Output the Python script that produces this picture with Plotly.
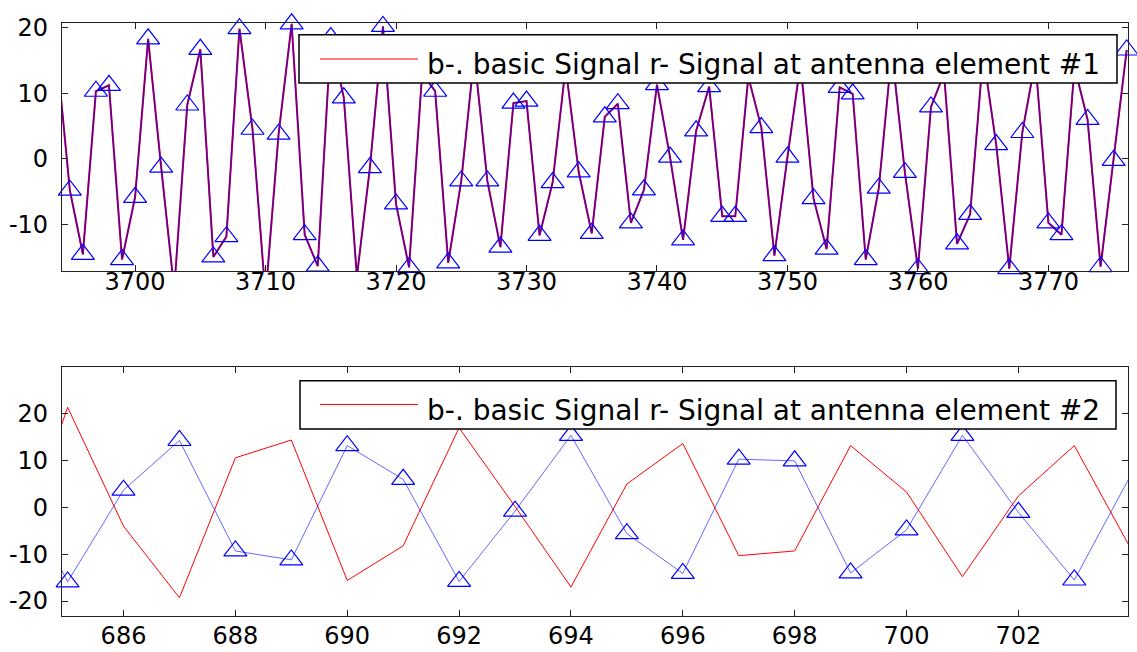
import plotly.graph_objects as go

# ---------------- data ----------------
# top panel: samples 3694..3776 (basic signal and signal at element #1 coincide)
top_x = list(range(3694, 3777))
top_basic = [16, -4.8, -14.6, 10.3, 11.2, -15.4, -5.9, 18.3, -1.3, -20,
             8.2, 16.7, -15.0, -11.9, 19.85, 4.5, -21, 3.75, 20.6, -11.6,
             -16.4, 18.5, 9.3, -18, -1.35, 20.2, -6.9, -16.6, 13, 10.3,
             -15.9, -3.4, 15.9, -3.4, -13.5, 8.5, 8.8, -11.7, -3.65, 14,
             -2.0, -11.4, 6.4, 8.4, -9.8, -4.75, 11.3, 0.25, -12.4, 4.25,
             11.0, -8.8, -8.8, 12.5, 4.75, -14.8, 0.25, 14.5, -6.1, -13.8,
             10.9, 9.9, -15.4, -4.5, 16.4, -2.1, -16.8, 7.9, 13, -13.0,
             -8.5, 16, 2.15, -16.8, 4.0, 15, -9.8, -11.6, 14, 6.0,
             -16.5, -0.25, 16.6]
top_elem1 = list(top_basic)

# bottom panel: samples 684..704
bot_x = list(range(684, 705))
bot_elem2 = [-13.6, 21.4, -4.0, -19.3, 10.6, 14.4, -15.6, -8.2, 17.0, 0.2,
             -17.0, 5.0, 13.65, -10.3, -9.3, 13.2, 3.3, -14.8, 2.45, 13.2, -8.6]
bot_basic = [8.1, -15.9, 3.7, 14.3, -9.3, -11.2, 13.2, 6.0, -15.8, -0.8,
             15.4, -5.6, -14.1, 10.3, 9.95, -14.0, -4.8, 15.4, -1.05, -15.5, 6.7]

top_xticks = [3700, 3710, 3720, 3730, 3740, 3750, 3760, 3770]
top_xtext = ["3700", "3710", "3720", "3730", "3740", "3750", "3760", "3770"]
top_yticks = [-10, 0, 10, 20]
top_ytext = ["-10", "0", "10", "20"]
bot_xticks = [686, 688, 690, 692, 694, 696, 698, 700, 702]
bot_xtext = ["686", "688", "690", "692", "694", "696", "698", "700", "702"]
bot_yticks = [-20, -10, 0, 10, 20]
bot_ytext = ["-20", "-10", "0", "10", "20"]

legend1 = "b-. basic Signal r- Signal at antenna element #1"
legend2 = "b-. basic Signal r- Signal at antenna element #2"

# ---------------- figure ----------------
W, H = 1137, 652
FONT = "DejaVu Sans"


def px(x):
    return x / W


def py(y):
    return 1 - y / H


fig = go.Figure()

# top panel
fig.add_trace(go.Scatter(x=top_x, y=top_elem1, mode="lines",
                         line=dict(color="red", width=2),
                         xaxis="x", yaxis="y", showlegend=False))
fig.add_trace(go.Scatter(x=top_x, y=top_basic, mode="lines+markers",
                         line=dict(color="rgba(0,0,255,0.65)", width=1.5),
                         marker=dict(symbol="triangle-up-open", size=20, color="blue",
                                     line=dict(width=1.2, color="blue")),
                         cliponaxis=False,
                         xaxis="x", yaxis="y", showlegend=False))

# bottom panel
fig.add_trace(go.Scatter(x=bot_x, y=bot_elem2, mode="lines",
                         line=dict(color="red", width=1),
                         xaxis="x2", yaxis="y2", showlegend=False))
fig.add_trace(go.Scatter(x=bot_x, y=bot_basic, mode="lines+markers",
                         line=dict(color="rgba(0,0,255,0.6)", width=1),
                         marker=dict(symbol="triangle-up-open", size=20, color="blue",
                                     line=dict(width=1.2, color="blue")),
                         cliponaxis=False,
                         xaxis="x2", yaxis="y2", showlegend=False))

axis_common = dict(showline=True, linecolor="#222", linewidth=1.2, mirror="ticks",
                   ticks="inside", ticklen=6, tickcolor="#222", tickwidth=1,
                   showgrid=False, zeroline=False,
                   tickfont=dict(family=FONT, size=24, color="black"))

fig.update_layout(
    width=W, height=H,
    margin=dict(l=0, r=0, t=0, b=0),
    paper_bgcolor="white", plot_bgcolor="white",
    xaxis=dict(domain=[62 / W, 1128 / W], range=[3694.4, 3776.1], anchor="y",
               tickmode="array", tickvals=top_xticks, ticktext=top_xtext,
               ticklabelstandoff=-11, **axis_common),
    yaxis=dict(domain=[py(266), py(14)], range=[-17.2, 20.75], anchor="x",
               tickmode="array", tickvals=top_yticks, ticktext=top_ytext,
               ticklabelstandoff=8, **axis_common),
    xaxis2=dict(domain=[62 / W, 1128 / W], range=[684.9, 703.96], anchor="y2",
                tickmode="array", tickvals=bot_xticks, ticktext=bot_xtext,
                ticklabelstandoff=-2, **axis_common),
    yaxis2=dict(domain=[py(616), py(363)], range=[-23.3, 30], anchor="x2",
                tickmode="array", tickvals=bot_yticks, ticktext=bot_ytext,
                ticklabelstandoff=8, **axis_common),
)

# manual legend boxes (as in the original figure)
shapes = []
annotations = []
for (bx0, by0, bx1, by1, ly, ty, label) in [
        (299, 26, 1117, 75, 50.7, 56, legend1),
        (300, 377, 1116, 426, 401, 407, legend2)]:
    shapes.append(dict(type="rect", xref="paper", yref="paper",
                       x0=px(bx0), x1=px(bx1), y0=py(by1), y1=py(by0),
                       fillcolor="white", line=dict(color="black", width=1.5),
                       layer="above"))
    shapes.append(dict(type="line", xref="paper", yref="paper",
                       x0=px(320), x1=px(418), y0=py(ly), y1=py(ly),
                       line=dict(color="red", width=1), layer="above"))
    annotations.append(dict(xref="paper", yref="paper", x=px(425), y=py(ty),
                            xanchor="left", yanchor="middle", showarrow=False,
                            text=label, font=dict(family=FONT, size=28, color="black")))

fig.update_layout(shapes=shapes, annotations=annotations)

fig.write_html("out.html", config={"displayModeBar": False},
               post_script="document.body.style.margin='0';document.body.style.overflow='hidden';")
